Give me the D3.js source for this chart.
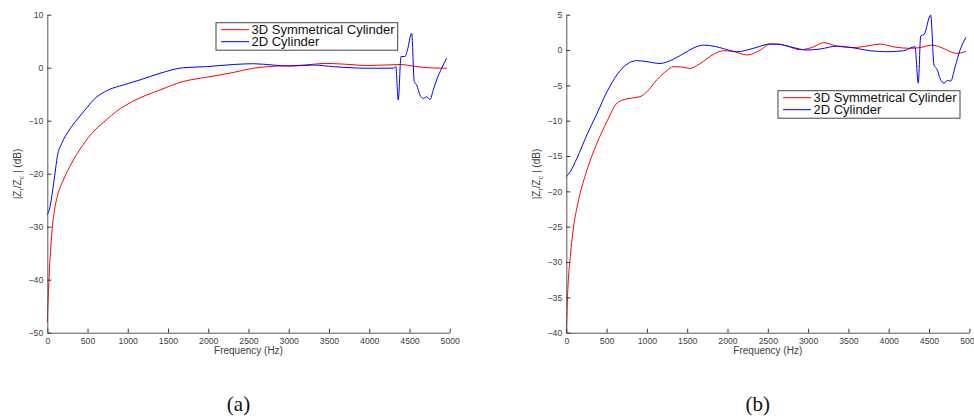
<!DOCTYPE html>
<html>
<head>
<meta charset="utf-8">
<script src="https://cdn.jsdelivr.net/npm/d3@7"></script>
<style>
body { margin: 0; background: #fff; }
svg { display: block; font-family: "Liberation Sans", Arial, Helvetica, sans-serif; }
</style>
</head>
<body>
<svg id="chart" width="974" height="418"></svg>
<script>
// tick labels
const freqTicks = [0, 500, 1000, 1500, 2000, 2500, 3000, 3500, 4000, 4500, 5000];
const yTicksA = [-50, -40, -30, -20, -10, 0, 10];
const yTicksB = [-40, -35, -30, -25, -20, -15, -10, -5, 0, 5];
const seriesNames = ["3D Symmetrical Cylinder", "2D Cylinder"];

// (a) 3D symmetrical cylinder
const freqA3D = [0, 15, 30, 45, 60, 83, 124, 199, 303, 427, 593, 738, 862, 1069, 1400, 1690, 1980, 2311, 2560, 2850, 3140, 3471, 3761, 3968, 4383, 4549, 4714, 4963];
const valA3D = [-48, -42, -37, -33.5, -30.5, -27.5, -24.3, -21.2, -18.0, -14.9, -11.75, -9.8, -8.2, -6.3, -4.2, -2.6, -1.8, -0.9, -0.1, 0.3, 0.45, 0.8, 0.6, 0.4, 0.6, 0.3, 0.0, -0.1];

// (a) 2D cylinder
const freqA2D = [0, 34, 67, 96, 124, 179, 273, 365, 468, 572, 758, 944, 1152, 1400, 1690, 1980, 2311, 2560, 2809, 3016, 3306, 3554, 3968, 4300, 4330, 4361, 4395, 4444, 4474, 4527, 4560, 4590, 4631, 4672, 4714, 4755, 4796, 4838, 4900, 4962];
const valA2D = [-27.8, -26.2, -23.1, -19.9, -16.8, -14.3, -11.75, -9.87, -8.0, -6.1, -4.2, -3.26, -2.3, -1.06, 0, 0.2, 0.6, 0.75, 0.5, 0.3, 0.5, 0.2, -0.1, -0.1, 0.2, -6.1, 2.1, 2.1, 3.3, 6.5, -2.6, -3.3, -5.2, -5.8, -5.5, -6.0, -4.2, -2.3, -0.1, 1.8];

// (b) 3D symmetrical cylinder
const freqB3D = [0, 17, 50, 91, 153, 256, 380, 505, 629, 720, 811, 914, 1001, 1125, 1249, 1328, 1430, 1535, 1662, 1828, 1948, 2076, 2238, 2407, 2527, 2620, 2738, 2903, 3069, 3193, 3358, 3565, 3771, 3892, 4061, 4264, 4392, 4536, 4640, 4846, 4959];
const valB3D = [-40, -34.4, -29.2, -25.0, -21.2, -17.0, -13.2, -10.1, -7.5, -7.0, -6.8, -6.6, -5.9, -4.2, -2.9, -2.35, -2.4, -2.6, -1.9, -0.6, -0.1, -0.2, -0.7, 0, 0.85, 0.85, 0.55, 0.05, 0.45, 1.05, 0.55, 0.35, 0.65, 0.85, 0.45, 0.24, 0.35, 0.7, 0.4, -0.47, -0.2];

// (b) 2D cylinder
const freqB2D = [0, 50, 132, 256, 380, 505, 629, 753, 873, 1001, 1163, 1290, 1456, 1580, 1700, 1850, 1950, 2114, 2324, 2527, 2650, 2800, 2986, 3151, 3358, 3565, 3771, 3975, 4185, 4326, 4367, 4397, 4438, 4521, 4562, 4603, 4637, 4686, 4727, 4769, 4823, 4885, 4959];
const valB2D = [-17.9, -17.2, -15.3, -12.0, -9.0, -5.9, -3.5, -2.0, -1.5, -1.65, -1.9, -1.5, -0.5, 0.3, 0.7, 0.5, 0.2, -0.24, 0.25, 0.85, 0.8, 0.4, 0, 0.15, 0.55, 0.3, -0.1, -0.24, -0.1, 0.47, -4.7, 2.0, 2.2, 4.95, -2.1, -2.8, -4.0, -4.7, -4.3, -4.4, -2.4, 0, 1.8];

const colors = ["#ff0000", "#0000ff"];

const svg = d3.select("#chart");

function zip(fs, vs) {
    return fs.map((f, i) => ({ f: f, v: vs[i] }));
}

function drawPanel(p) {
    const x = d3.scaleLinear().domain([0, 5000]).range([p.left, p.right]);
    const y = d3.scaleLinear().domain(p.yDomain).range([332.7, 14.7]);

    const g = svg.append("g");

    const line = d3.line()
        .x(d => x(d.f))
        .y(d => y(d.v))
        .curve(d3.curveMonotoneX);

    g.selectAll("path.series")
        .data(p.series)
        .join("path")
        .attr("class", "series")
        .attr("fill", "none")
        .attr("stroke", (d, i) => colors[i])
        .attr("stroke-width", 1)
        .attr("d", d => line(d));

    const xAxis = g.append("g")
        .attr("transform", `translate(0,${y(p.yDomain[0])})`)
        .call(d3.axisBottom(x).tickValues(freqTicks).tickFormat(d3.format("d"))
            .tickSizeInner(-4).tickSizeOuter(0).tickPadding(5));
    const yAxis = g.append("g")
        .attr("transform", `translate(${x(0)},0)`)
        .call(d3.axisLeft(y).tickValues(p.yTicks).tickFormat(d3.format("d"))
            .tickSizeInner(-4).tickSizeOuter(0).tickPadding(4));

    [xAxis, yAxis].forEach(a => {
        a.select(".domain").attr("stroke", "#555");
        a.selectAll(".tick line").attr("stroke", "#333");
        a.selectAll(".tick text")
            .attr("fill", "#404040")
            .attr("font-size", "8.7px")
            .attr("font-family", "Liberation Sans, Arial, sans-serif");
    });

    g.append("text")
        .attr("x", (p.left + p.right) / 2)
        .attr("y", 354)
        .attr("text-anchor", "middle")
        .attr("font-size", "10px")
        .attr("fill", "#404040")
        .text("Frequency (Hz)");

    const yl = g.append("text")
        .attr("transform", `translate(${p.yLabelX},174) rotate(-90)`)
        .attr("text-anchor", "middle")
        .attr("font-size", "10px")
        .attr("fill", "#404040");
    yl.append("tspan").text("|Z");
    yl.append("tspan").attr("font-size", "7px").attr("dy", 2.5).text("r");
    yl.append("tspan").attr("dy", -2.5).text("/Z");
    yl.append("tspan").attr("font-size", "7px").attr("dy", 2.5).text("c");
    yl.append("tspan").attr("dy", -2.5).text(" | (dB)");

    // legend
    const lg = g.append("g").attr("transform", `translate(${p.legend[0]},${p.legend[1]})`);
    lg.append("rect")
        .attr("width", p.legend[2])
        .attr("height", 27.5)
        .attr("fill", "#fff")
        .attr("stroke", "#444")
        .attr("stroke-width", 1);
    seriesNames.forEach((name, i) => {
        const by = 11 + i * 12;
        lg.append("line")
            .attr("x1", 5).attr("x2", 33)
            .attr("y1", by - 4).attr("y2", by - 4)
            .attr("stroke", colors[i])
            .attr("stroke-width", 1);
        lg.append("text")
            .attr("x", 35.5)
            .attr("y", by)
            .attr("font-size", "13px")
            .attr("fill", "#111")
            .text(name);
    });

    svg.append("text")
        .attr("x", (p.left + p.right) / 2 - 10)
        .attr("y", 411)
        .attr("text-anchor", "middle")
        .attr("font-family", "Liberation Serif, Times New Roman, serif")
        .attr("font-size", "21px")
        .attr("fill", "#111")
        .text(p.caption);
}

drawPanel({
    left: 47.3, right: 449.7,
    yDomain: [-50, 10], yTicks: yTicksA,
    series: [zip(freqA3D, valA3D), zip(freqA2D, valA2D)],
    legend: [216, 22.7, 181.7],
    yLabelX: 21,
    caption: "(a)"
});

drawPanel({
    left: 566.3, right: 969.3,
    yDomain: [-40, 5], yTicks: yTicksB,
    series: [zip(freqB3D, valB3D), zip(freqB2D, valB2D)],
    legend: [778, 90.7, 182],
    yLabelX: 540,
    caption: "(b)"
});
</script>
</body>
</html>
